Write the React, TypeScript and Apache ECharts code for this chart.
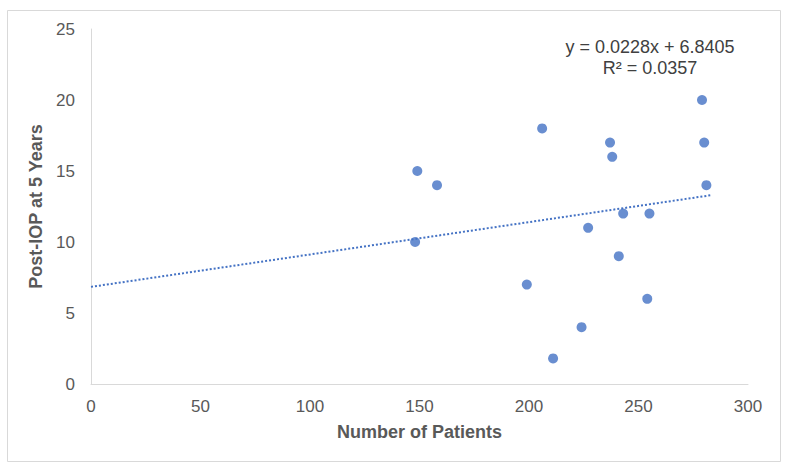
import { useEffect, useRef } from 'react';
import * as echarts from 'echarts';

// Number of patients vs post-IOP at 5 years
const patients = [149, 158, 148, 206, 199, 211, 224, 227, 237, 238, 243, 241, 255, 254, 279, 280, 281];
const postIop = [15, 14, 10, 18, 7, 1.8, 4, 11, 17, 16, 12, 9, 12, 6, 20, 17, 14];

// trendline as printed on the chart
const slope = 0.0228;
const intercept = 6.8405;
const trendStart = 0;
const trendEnd = 283;
const equationText = 'y = 0.0228x + 6.8405';
const r2Text = 'R² = 0.0357';

const font = '"Liberation Sans", Arial, sans-serif';

export default function App() {
  const chartRef = useRef(null);

  useEffect(() => {
    document.body.style.margin = '0';
    if (!chartRef.current) return;

    const chart = echarts.init(chartRef.current, null, { renderer: 'svg' });

    const trendData = [trendStart, trendEnd].map(x => [x, intercept + slope * x]);

    chart.setOption({
      animation: false,
      backgroundColor: '#ffffff',
      textStyle: { fontFamily: font },
      grid: {
        left: 91,
        right: 40,
        top: 29,
        bottom: 82
      },
      xAxis: {
        type: 'value',
        min: 0,
        max: 300,
        interval: 50,
        name: 'Number of Patients',
        nameLocation: 'middle',
        nameGap: 39,
        nameTextStyle: { color: '#595959', fontSize: 18, fontWeight: 'bold', fontFamily: font },
        axisLine: { show: true, lineStyle: { color: '#d9d9d9', width: 1 } },
        axisTick: { show: false },
        splitLine: { show: false },
        axisLabel: { color: '#595959', fontSize: 17, margin: 14, fontFamily: font }
      },
      yAxis: {
        type: 'value',
        min: 0,
        max: 25,
        interval: 5,
        name: 'Post-IOP at 5 Years',
        nameLocation: 'middle',
        nameGap: 42,
        nameTextStyle: { color: '#595959', fontSize: 18, fontWeight: 'bold', fontFamily: font },
        axisLine: { show: true, lineStyle: { color: '#d9d9d9', width: 1 } },
        axisTick: { show: false },
        splitLine: { show: false },
        axisLabel: { color: '#595959', fontSize: 17, margin: 16, fontFamily: font }
      },
      graphic: [
        {
          type: 'rect',
          shape: { x: 7.5, y: 10.5, width: 773, height: 451 },
          style: { fill: 'none', stroke: '#d9d9d9', lineWidth: 1 },
          silent: true
        },
        {
          type: 'text',
          x: 650,
          y: 47,
          style: {
            text: equationText,
            fill: '#404040',
            font: `18px ${font}`,
            textAlign: 'center',
            textVerticalAlign: 'middle'
          }
        },
        {
          type: 'text',
          x: 650,
          y: 68,
          style: {
            text: r2Text,
            fill: '#404040',
            font: `18px ${font}`,
            textAlign: 'center',
            textVerticalAlign: 'middle'
          }
        }
      ],
      series: [
        {
          name: 'Trend',
          type: 'line',
          data: trendData,
          showSymbol: false,
          symbol: 'none',
          lineStyle: { color: '#4472C4', width: 2, type: [2, 2] },
          silent: true,
          z: 1
        },
        {
          name: 'Post-IOP',
          type: 'scatter',
          data: patients.map((p, i) => [p, postIop[i]]),
          symbol: 'circle',
          symbolSize: 10,
          itemStyle: { color: '#4472C4' },
          z: 2
        }
      ]
    });

    return () => {
      chart.dispose();
    };
  }, []);

  return <div ref={chartRef} style={{ width: '788px', height: '466px' }} />;
}
